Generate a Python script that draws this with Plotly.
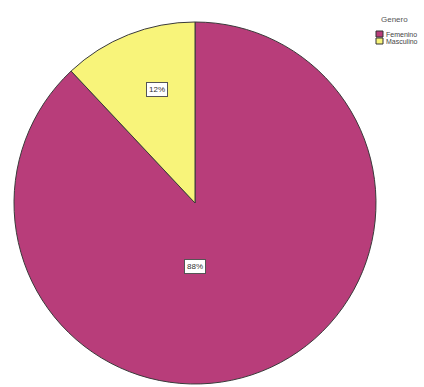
import plotly.graph_objects as go

# Gender distribution
categories = ["Femenino", "Masculino"]
values = [88, 12]
colors = ["#B83D7A", "#F8F47A"]
legend_title = "Genero"

W, H = 424, 387
FONT = "Liberation Sans, Arial"

fig = go.Figure(
    go.Pie(
        labels=categories,
        values=values,
        sort=False,
        direction="clockwise",
        rotation=0,
        marker=dict(colors=colors, line=dict(color="#3a3a3a", width=1)),
        textinfo="none",
        hoverinfo="label+percent",
        showlegend=False,
        domain=dict(x=[14 / W, 376 / W], y=[0, 1 - 19 / H]),
    )
)

# Percentage labels in white boxes
total = sum(values)
label_pos = {"Femenino": (195, 274), "Masculino": (157, 82)}
for cat, v in zip(categories, values):
    px, py = label_pos[cat]
    fig.add_annotation(
        x=px / W, y=1 - py / H, xref="paper", yref="paper",
        text=f"{round(100 * v / total)}%",
        showarrow=False,
        font=dict(family=FONT, size=8, color="#333333"),
        bgcolor="white", bordercolor="#555555", borderwidth=1, borderpad=2,
    )

# Compact legend: title plus small square swatches
fig.add_annotation(
    x=394 / W, y=1 - 19 / H, xref="paper", yref="paper",
    text=legend_title, showarrow=False, xanchor="center", yanchor="middle",
    font=dict(family=FONT, size=8, color="#555555"),
)
for i, (cat, col) in enumerate(zip(categories, colors)):
    top = 31 + i * 7
    fig.add_shape(
        type="rect", xref="paper", yref="paper",
        x0=376 / W, x1=383 / W, y0=1 - (top + 6) / H, y1=1 - top / H,
        fillcolor=col, line=dict(color="#333333", width=1),
    )
    fig.add_annotation(
        x=384 / W, y=1 - (top + 3) / H, xref="paper", yref="paper",
        text=cat, showarrow=False, xanchor="left", yanchor="middle",
        font=dict(family=FONT, size=7, color="#444444"),
    )

fig.update_layout(
    width=W, height=H,
    margin=dict(l=0, r=0, t=0, b=0),
    paper_bgcolor="white",
    plot_bgcolor="white",
)

fig.write_html("out.html")
